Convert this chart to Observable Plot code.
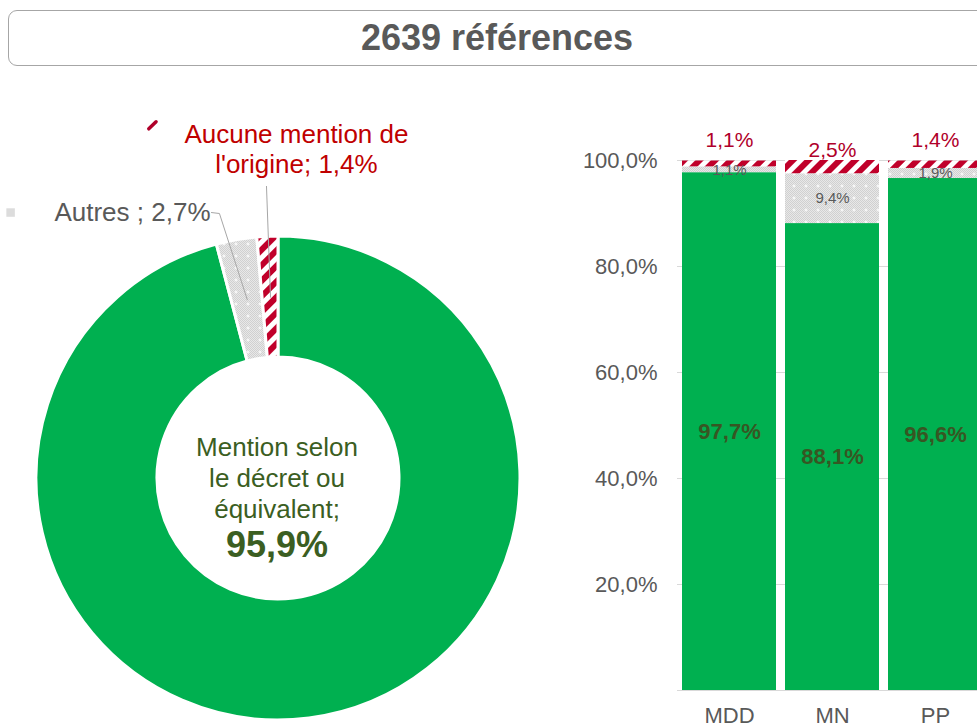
<!DOCTYPE html>
<html>
<head>
<meta charset="utf-8">
<script src="https://cdn.jsdelivr.net/npm/d3@7"></script>
<script src="https://cdn.jsdelivr.net/npm/@observablehq/plot@0.6"></script>
<style>
  html, body { margin: 0; padding: 0; background: #fff; overflow: hidden; width: 977px; height: 727px; }
  #wrap { position: relative; width: 977px; height: 727px; overflow: hidden; font-family: "Liberation Sans", Arial, sans-serif; }
  #title { position: absolute; left: 8px; top: 10px; width: 978px; height: 56px; box-sizing: border-box;
           border: 1.5px solid #A6A6A6; border-radius: 9px; text-align: center; line-height: 53px;
           font-size: 36px; font-weight: bold; color: #595959; z-index: 2; background: #fff; }
  #donut { position: absolute; left: 0; top: 0; }
  #bars { position: absolute; left: 560px; top: 0; }
</style>
</head>
<body>
<svg width="0" height="0" style="position:absolute">
  <defs>
    <pattern id="chk" width="2" height="2" patternUnits="userSpaceOnUse">
      <rect width="2" height="2" fill="#E8E8E8"/>
      <rect width="1" height="1" fill="#D0D0D0"/>
      <rect x="1" y="1" width="1" height="1" fill="#D0D0D0"/>
    </pattern>
    <pattern id="grayPat" width="12" height="12" patternUnits="userSpaceOnUse">
      <rect width="12" height="12" fill="url(#chk)"/>
      <path d="M6 4.5v3M4.5 6h3" stroke="#fff" stroke-width="1"/>
    </pattern>
    <pattern id="redPat" width="11" height="11" patternUnits="userSpaceOnUse" patternTransform="rotate(45)">
      <rect width="11" height="11" fill="#fff"/>
      <rect width="6" height="11" fill="#C0002A"/>
    </pattern>
  </defs>
</svg>
<div id="wrap">
  <div id="title"></div>
  <div id="donut"></div>
  <div id="bars"></div>
</div>
<script>
// ---------- data ----------
const title = "2639 références";
const donutCategories = ["Mention selon le décret ou équivalent", "Autres", "Aucune mention de l'origine"];
const donutValues = [95.9, 2.7, 1.4];
const barCategories = ["MDD", "MN", "PP"];
const seriesNames = ["Mention", "Autres", "Aucune"];
const mentionValues = [97.7, 88.1, 96.6];
const autresValues = [1.1, 9.4, 1.9];
const aucuneValues = [1.1, 2.5, 1.4];
const yTicks = [20, 40, 60, 80, 100];

// ---------- helpers ----------
const fmt = v => v.toFixed(1).replace(".", ",") + "%";
const FONT = '"Liberation Sans", Arial, sans-serif';
const GREEN = "#00B050";
const seriesFills = [GREEN, "url(#grayPat)", "url(#redPat)"];

document.getElementById("title").textContent = title;

// ---------- donut ----------
const DW = 560, DH = 727, CX = 278, CY = 478, R = 242;
const donutData = donutCategories.map((c, i) => ({category: c, value: donutValues[i]}));
const pieArcs = d3.pie().sort(null).value(d => d.value)(donutData);
const centroid = a => {
  const m = (a.startAngle + a.endAngle) / 2;
  return {x: 0.75 * Math.sin(m), y: 0.75 * Math.cos(m)};
};

function donutRender(index, scales) {
  const x = scales.x, y = scales.y;
  const cx = x(0), cy = y(0), r = x(1) - x(0);
  const arc = d3.arc().innerRadius(r * 0.5).outerRadius(r);
  const g = d3.create("svg:g").attr("transform", `translate(${cx},${cy})`);
  g.selectAll("path").data(pieArcs).join("path")
    .attr("d", arc)
    .attr("fill", (d, i) => seriesFills[i])
    .attr("stroke", "#fff")
    .attr("stroke-width", 3);
  return g.node();
}

const cAutres = centroid(pieArcs[1]);
const cAucune = centroid(pieArcs[2]);
const leaderAutres = [{x: -0.277, y: 1.099}, {x: -0.244, y: 1.095}, cAutres];
const leaderAucune = [{x: -0.0496, y: 1.207}, cAucune];

const centerLines = ["Mention selon", "le décret ou", "équivalent;"];
const centerY = [0.128, 0.0, -0.128];
const aucuneLines = ["Aucune mention de", "l'origine; " + fmt(donutValues[2])];
const aucuneY = [1.4227, 1.2988];

const donut = Plot.plot({
  width: DW, height: DH,
  marginTop: 0, marginRight: 0, marginBottom: 0, marginLeft: 0,
  x: {domain: [-CX / R, (DW - CX) / R], axis: null},
  y: {domain: [-(DH - CY) / R, CY / R], axis: null},
  style: {fontFamily: FONT, background: "transparent", maxWidth: "none", overflow: "visible"},
  marks: [
    donutRender,
    Plot.line(leaderAutres, {x: "x", y: "y", stroke: "#A6A6A6", strokeWidth: 1}),
    Plot.line(leaderAucune, {x: "x", y: "y", stroke: "#A6A6A6", strokeWidth: 1}),
    Plot.text(centerLines, {x: () => -0.006, y: (d, i) => centerY[i], text: d => d,
      fontSize: 26, fill: "#3B5E22"}),
    Plot.text([fmt(donutValues[0])], {x: () => -0.006, y: () => -0.275, text: d => d,
      fontSize: 36, fontWeight: "bold", fill: "#3B5E22"}),
    Plot.text(aucuneLines, {x: () => 0.074, y: (d, i) => aucuneY[i], text: d => d,
      fontSize: 26, fill: "#C00000"}),
    Plot.text([donutCategories[1] + " ; " + fmt(donutValues[1])], {x: () => -0.281, y: () => 1.099,
      text: d => d, textAnchor: "end", fontSize: 26, fill: "#595959"}),
    Plot.dot([{x: -1.107, y: 1.099}], {x: "x", y: "y", symbol: "square", r: 4.8, fill: "url(#chk)"}),
    Plot.link([{x1: -0.536, y1: 1.445, x2: -0.506, y2: 1.474}], {x1: "x1", y1: "y1", x2: "x2", y2: "y2",
      stroke: "#B0002A", strokeWidth: 3.5, strokeLinecap: "round"})
  ]
});
document.getElementById("donut").appendChild(donut);

// ---------- stacked bars ----------
const barRows = [];
barCategories.forEach((cat, i) => {
  const vals = [mentionValues[i], autresValues[i], aucuneValues[i]];
  let acc = 0;
  vals.forEach((v, j) => {
    barRows.push({cat, series: seriesNames[j], value: v, y1: acc, y2: acc + v, mid: acc + v / 2});
    acc += v;
  });
});
const greenRows = barRows.filter(d => d.series === "Mention");
const grayRows = barRows.filter(d => d.series === "Autres");
const redRows = barRows.filter(d => d.series === "Aucune");

const bars = Plot.plot({
  width: 430, height: 727,
  marginLeft: 117, marginRight: 2.5, marginTop: 160, marginBottom: 37,
  x: {domain: barCategories, paddingInner: 0.09, paddingOuter: 0.05, tickSize: 0, tickPadding: 17, label: null},
  y: {domain: [0, 100], ticks: yTicks, tickFormat: fmt, tickSize: 0, tickPadding: 20, label: null},
  color: {type: "ordinal", domain: seriesNames, range: seriesFills},
  style: {fontFamily: FONT, fontSize: "22px", color: "#595959", background: "transparent", maxWidth: "none", overflow: "visible"},
  marks: [
    Plot.ruleY(yTicks, {stroke: "#D9D9D9", strokeWidth: 1}),
    Plot.ruleY([0], {stroke: "#D9D9D9", strokeWidth: 1.2}),
    Plot.barY(barRows, {x: "cat", y1: "y1", y2: "y2", fill: "series"}),
    Plot.text(greenRows, {x: "cat", y: "mid", text: d => fmt(d.value), fontSize: 22, fontWeight: "bold", fill: "#375623"}),
    Plot.text(grayRows, {x: "cat", y: "mid", text: d => fmt(d.value), fontSize: 15, fill: "#595959"}),
    Plot.text(redRows.filter(d => d.cat !== "MN"), {x: "cat", y: "y2", text: d => fmt(d.value), fontSize: 21, fill: "#B0002A", dy: -20.5}),
    Plot.text(redRows.filter(d => d.cat === "MN"), {x: "cat", y: "y2", text: d => fmt(d.value), fontSize: 21, fill: "#B0002A", dy: -10})
  ]
});
document.getElementById("bars").appendChild(bars);
</script>
</body>
</html>
